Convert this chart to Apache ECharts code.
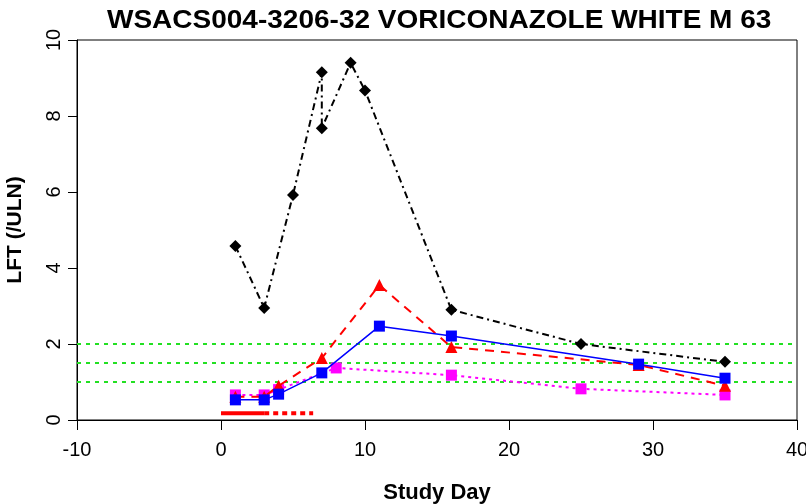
<!DOCTYPE html>
<html>
<head>
<meta charset="utf-8">
<script src="https://cdn.jsdelivr.net/npm/echarts@6/dist/echarts.min.js"></script>
<style>
  html, body { margin: 0; padding: 0; background: #fff; }
  #chart { width: 806px; height: 504px; }
</style>
</head>
<body>
<div id="chart"></div>
<script>
// Liver function tests relative to upper limit of normal, by study day
const titleText = 'WSACS004-3206-32 VORICONAZOLE WHITE M 63';
const xTicks = [-10, 0, 10, 20, 30, 40];
const yTicks = [0, 2, 4, 6, 8, 10];

// ALT (black diamonds, dash-dot)
const altDays = [1, 3, 5, 7, 7, 9, 10, 16, 25, 35];
const altVals = [4.58, 2.95, 5.92, 9.15, 7.68, 9.4, 8.67, 2.9, 2.0, 1.53];
// AST (red triangles, dashed)
const astDays = [1, 3, 4, 7, 11, 16, 29, 35];
const astVals = [0.61, 0.61, 0.9, 1.63, 3.55, 1.92, 1.45, 0.9];
// Alkaline phosphatase (blue squares, solid)
const alkDays = [1, 3, 4, 7, 11, 16, 29, 35];
const alkVals = [0.53, 0.53, 0.68, 1.24, 2.47, 2.21, 1.47, 1.1];
// Bilirubin (magenta squares, dotted)
const bilDays = [1, 3, 4, 8, 16, 25, 35];
const bilVals = [0.66, 0.66, 0.8, 1.37, 1.18, 0.82, 0.66];

// Reference levels (multiples of ULN)
const refLevels = [1, 1.5, 2];
// Dosing period: continuous then intermittent
const doseLevel = 0.18;
const doseSolid = [0, 3];
const doseDotted = [3, 6.4];

const pairs = (xs, ys) => xs.map((x, i) => [x, ys[i]]);
const font = '"Liberation Sans", Arial, sans-serif';

const series = [];
refLevels.forEach(v => {
  series.push({
    type: 'line', silent: true, symbol: 'none',
    data: [[xTicks[0], v], [xTicks[xTicks.length - 1], v]],
    lineStyle: { color: '#22e022', width: 2, type: [4, 5] },
    z: 1
  });
});
series.push({
  type: 'line', silent: true, symbol: 'none',
  data: doseSolid.map(x => [x, doseLevel]),
  lineStyle: { color: '#ff0000', width: 4, type: 'solid' }, z: 2
});
series.push({
  type: 'line', silent: true, symbol: 'none',
  data: doseDotted.map(x => [x, doseLevel]),
  lineStyle: { color: '#ff0000', width: 4, type: [5, 4] }, z: 2
});
series.push({
  name: 'Bilirubin', type: 'line', data: pairs(bilDays, bilVals),
  symbol: 'rect', symbolSize: 11,
  itemStyle: { color: '#ff00ff' },
  lineStyle: { color: '#ff00ff', width: 2, type: [3, 4] }, z: 3
});
series.push({
  name: 'AST', type: 'line', data: pairs(astDays, astVals),
  symbol: 'triangle', symbolSize: 12,
  itemStyle: { color: '#ff0000' },
  lineStyle: { color: '#ff0000', width: 2, type: [9, 7] }, z: 4
});
series.push({
  name: 'ALP', type: 'line', data: pairs(alkDays, alkVals),
  symbol: 'rect', symbolSize: 11,
  itemStyle: { color: '#0000ff' },
  lineStyle: { color: '#0000ff', width: 1.5, type: 'solid' }, z: 5
});
series.push({
  name: 'ALT', type: 'line', data: pairs(altDays, altVals),
  symbol: 'diamond', symbolSize: 12,
  itemStyle: { color: '#000000' },
  lineStyle: { color: '#000000', width: 2, type: [7, 4, 2, 4] }, z: 6
});

const chart = echarts.init(document.getElementById('chart'), null, { renderer: 'canvas' });
chart.setOption({
  animation: false,
  backgroundColor: '#ffffff',
  graphic: [{
    type: 'text', left: 107, top: 9,
    scaleX: 1.12, originX: 0,
    style: {
      text: titleText, fontFamily: font, fontWeight: 'bold', fontSize: 25, fill: '#000'
    }
  }],
  grid: {
    left: 77, right: 9, top: 40, bottom: 84,
    outerBoundsMode: 'none', containLabel: false,
    show: true, borderColor: '#000', borderWidth: 1, backgroundColor: 'transparent'
  },
  xAxis: {
    type: 'value', min: xTicks[0], max: xTicks[xTicks.length - 1], interval: 10,
    name: 'Study Day', nameLocation: 'middle', nameGap: 62, nameMoveOverlap: false,
    nameTextStyle: { fontFamily: font, fontWeight: 'bold', fontSize: 22, color: '#000' },
    axisLine: { show: true, onZero: false, lineStyle: { color: '#000', width: 1 } },
    axisTick: { show: true, length: 10, lineStyle: { color: '#000' } },
    axisLabel: { fontFamily: font, fontSize: 20, color: '#000', margin: 20 },
    splitLine: { show: false }
  },
  yAxis: {
    type: 'value', min: yTicks[0], max: yTicks[yTicks.length - 1], interval: 2,
    name: 'LFT (/ULN)', nameLocation: 'middle', nameGap: 51, nameMoveOverlap: false,
    nameTextStyle: { fontFamily: font, fontWeight: 'bold', fontSize: 21, color: '#000' },
    axisLine: { show: true, onZero: false, lineStyle: { color: '#000', width: 1 } },
    axisTick: { show: true, length: 9, lineStyle: { color: '#000' } },
    axisLabel: { fontFamily: font, fontSize: 20, color: '#000', rotate: 90, margin: 13 },
    splitLine: { show: false }
  },
  series: series
});
</script>
</body>
</html>
